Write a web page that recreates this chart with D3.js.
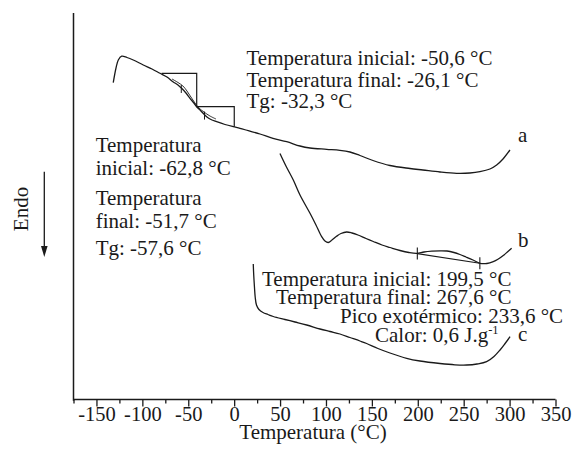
<!DOCTYPE html>
<html>
<head>
<meta charset="utf-8">
<script src="https://cdn.jsdelivr.net/npm/d3@7"></script>
<style>
  html, body { margin: 0; padding: 0; background: #fff; }
  svg text { font-family: "Liberation Serif", "Times New Roman", serif; fill: #1a1a1a; }
</style>
</head>
<body>
<svg id="chart" width="573" height="463"></svg>
<script>
// ---- Data (temperature in °C, heat flow in arbitrary units; endo is down) ----
const tempA = [-131.7,-128.7,-126.2,-122.5,-116.8,-109.9,-99.0,-89.5,-80.8,-73.2,-66.7,-61.2,-57.2,-52.5,-48.1,-44.3,-40.8,-36.2,-30.0,-25.3,-19.1,-10.0,-1.0,6.3,15.4,28.1,42.3,57.2,71.7,82.6,100.8,115.2,126.1,137.0,151.2,169.7,191.5,205.6,224.2,242.3,256.8,267.7,278.6,285.9,292.8,300.4];
const heatA = [317.3,332,340,343.8,342.5,340,335,331,326.7,323,318.3,315,311.7,307,301.7,297.5,293.3,289,283.3,280.5,278.3,275.5,273.3,271.7,269.3,266,261.7,258.3,254,252,250.7,249.7,248,244.5,239.5,234.5,231.5,230,228,226.7,227,228.3,231,235,241,250];

// second (fitted) trace in the glass-transition region of curve a
const tempAFit = [-67.7,-61.2,-55.8,-51.4,-47.1,-42.7,-38.3,-32.9,-26.4,-19.8];
const heatAFit = [321,317.5,314,309,303,297,292,288,284,281];

// step construction lines of curve a
const tempStep = [-79.0,-40.8,-40.8,0.1,0.1];
const heatStep = [326.7,326.7,293.3,293.3,273.3];

const tempB = [49.9,56.4,64.4,71.7,82.6,89.1,95.3,98.9,102.5,106.5,111.6,116.3,122.5,128.3,134.8,143.6,151.5,161.0,169.7,180.6,190.4,198.8,206.8,215.4,224.2,231.8,239.4,245.9,252.5,260.1,267.7,275.3,282.2,287.3,293.1,298.2,302.2];
const heatB = [246.5,234,220,205,186.7,175,163.3,159,157.5,160,163.8,166.5,168,167,165,161.5,158.5,155,152.5,149.5,147.5,146.7,148,148.8,149.2,149,147.5,145.5,143,140,136.7,136.5,138.3,140.7,144.5,148.5,151.7];

// baseline under the exothermic peak of curve b
const tempBBase = [199.5,267.6];
const heatBBase = [146.4,136.7];

const tempC = [20.8,21.3,22.1,22.9,24.3,27.0,31.4,36.8,42.6,55.3,66.2,79.0,93.5,104.3,115.2,126.1,137.0,144.3,156.6,169.7,187.9,202.4,224.2,240.5,253.3,264.5,275.0,283.0,289.6,295.1,300.5];
const heatC = [136,125,113,103,95,90.5,87.5,85.5,83.5,80.5,78,75,71,68.5,66,62.5,59,56.5,51.5,47,41.7,39,36.5,35.2,35,36,38.3,43.5,50,56.5,63.3];

// marker temperatures
const tgMarksA = [-57.6,-32.3];
const markB = [199.5,267.6];

const majorTicks = [-150,-100,-50,0,50,100,150,200,250,300,350];
const minorTicks = [-175,-125,-75,-25,25,75,125,175,225,275,325];

const curveLabels = ["a","b","c"];
const annotTop = ["Temperatura inicial: -50,6 °C","Temperatura final: -26,1 °C","Tg: -32,3 °C"];
const annotLeft = ["Temperatura","inicial: -62,8 °C","Temperatura","final: -51,7 °C","Tg: -57,6 °C"];
const annotBottom = ["Temperatura inicial: 199,5 °C","Temperatura final: 267,6 °C","Pico exotérmico: 233,6 °C","Calor: 0,6 J.g"];

// ---- Layout ----
const FS = 21;
const svg = d3.select("#chart");
const ink = "#1a1a1a";
const x = d3.scaleLinear().domain([-175, 350]).range([73.5, 555.5]);
const y = d3.scaleLinear().domain([0, 387]).range([400, 13]);

// axes
const xAxis = d3.axisBottom(x).tickValues(majorTicks).tickSize(7).tickSizeOuter(0);
const gx = svg.append("g").attr("transform", "translate(0,399.5)").call(xAxis);
gx.select(".domain").attr("stroke", ink).attr("stroke-width", 1.4).attr("d", `M${x(-175)},0H${x(350)}`);
gx.selectAll(".tick line").attr("stroke", ink).attr("stroke-width", 1.3);
gx.selectAll(".tick text").attr("font-size", 20.5).attr("fill", ink).attr("y", 21).attr("dy", 0)
  .text(d => d < 0 ? "-" + Math.abs(d) : d);
const gm = svg.append("g").attr("transform", "translate(0,399.5)")
  .call(d3.axisBottom(x).tickValues(minorTicks).tickSize(4).tickFormat(""));
gm.select(".domain").remove();
gm.selectAll(".tick line").attr("stroke", ink).attr("stroke-width", 1.3);

// y axis (no ticks)
svg.append("line").attr("x1", x(-175)).attr("x2", x(-175)).attr("y1", y(387)).attr("y2", y(0) + 0.7)
  .attr("stroke", ink).attr("stroke-width", 1.5);

svg.append("text").attr("x", 313).attr("y", 439).attr("text-anchor", "middle").attr("font-size", FS).text("Temperatura (°C)");

// Endo label + arrow
svg.append("text").attr("transform", "translate(28,209) rotate(-90)").attr("text-anchor", "middle").attr("font-size", FS).text("Endo");
svg.append("line").attr("x1", 44.3).attr("x2", 44.3).attr("y1", 171.7).attr("y2", 248).attr("stroke", ink).attr("stroke-width", 1.3);
svg.append("path").attr("d", "M41,246L47.6,246L44.3,257Z").attr("fill", ink);

// curves
const line = d3.line().x(d => x(d[0])).y(d => y(d[1])).curve(d3.curveCatmullRom.alpha(0.5));
const straight = d3.line().x(d => x(d[0])).y(d => y(d[1]));
const zip = (a, b) => a.map((v, i) => [v, b[i]]);

const curves = [zip(tempA, heatA), zip(tempB, heatB), zip(tempC, heatC)];
svg.selectAll("path.curve").data(curves).enter().append("path").attr("class", "curve")
  .attr("d", line).attr("fill", "none").attr("stroke", ink).attr("stroke-width", 1.3);

svg.append("path").attr("d", line(zip(tempAFit, heatAFit))).attr("fill", "none").attr("stroke", ink).attr("stroke-width", 0.9);
svg.append("path").attr("d", straight(zip(tempStep, heatStep))).attr("fill", "none").attr("stroke", ink).attr("stroke-width", 1.2);
svg.append("path").attr("d", straight(zip(tempBBase, heatBBase))).attr("fill", "none").attr("stroke", ink).attr("stroke-width", 1.1);

// marker ticks
const interp = (tx, ty, t) => { const i = d3.bisector(d => d).left(tx, t); const i0 = Math.max(1, Math.min(i, tx.length - 1));
  const f = (t - tx[i0 - 1]) / (tx[i0] - tx[i0 - 1]); return ty[i0 - 1] + f * (ty[i0] - ty[i0 - 1]); };
tgMarksA.forEach(t => { const yy = y(interp(tempA, heatA, t));
  svg.append("line").attr("x1", x(t)).attr("x2", x(t)).attr("y1", yy - 3).attr("y2", yy + 5).attr("stroke", ink).attr("stroke-width", 1); });
markB.forEach((t, i) => { const yy = y(heatBBase[i]);
  svg.append("line").attr("x1", x(t)).attr("x2", x(t)).attr("y1", yy - 6).attr("y2", yy + 6).attr("stroke", ink).attr("stroke-width", 1.1); });

// curve labels
const labelPos = [[518, 141.5], [518, 247], [518, 341]];
svg.selectAll("text.clab").data(curveLabels).enter().append("text").attr("class", "clab")
  .attr("x", (d, i) => labelPos[i][0]).attr("y", (d, i) => labelPos[i][1]).attr("font-size", FS).text(d => d);

// annotations
const topY = [65, 86.7, 108.3];
annotTop.forEach((t, i) => svg.append("text").attr("x", 246.5).attr("y", topY[i]).attr("font-size", FS).text(t));
const leftY = [151.5, 175, 204.5, 228, 255];
annotLeft.forEach((t, i) => svg.append("text").attr("x", 95.7).attr("y", leftY[i]).attr("font-size", FS).text(t));
const botX = [262, 276, 340, 375];
const botY = [285.7, 304.3, 323, 341.7];
annotBottom.forEach((t, i) => {
  const tx = svg.append("text").attr("x", botX[i]).attr("y", botY[i]).attr("font-size", FS).text(t);
  if (i === 3) tx.append("tspan").attr("font-size", 12.5).attr("dy", -8).text("-1");
});
</script>
</body>
</html>
